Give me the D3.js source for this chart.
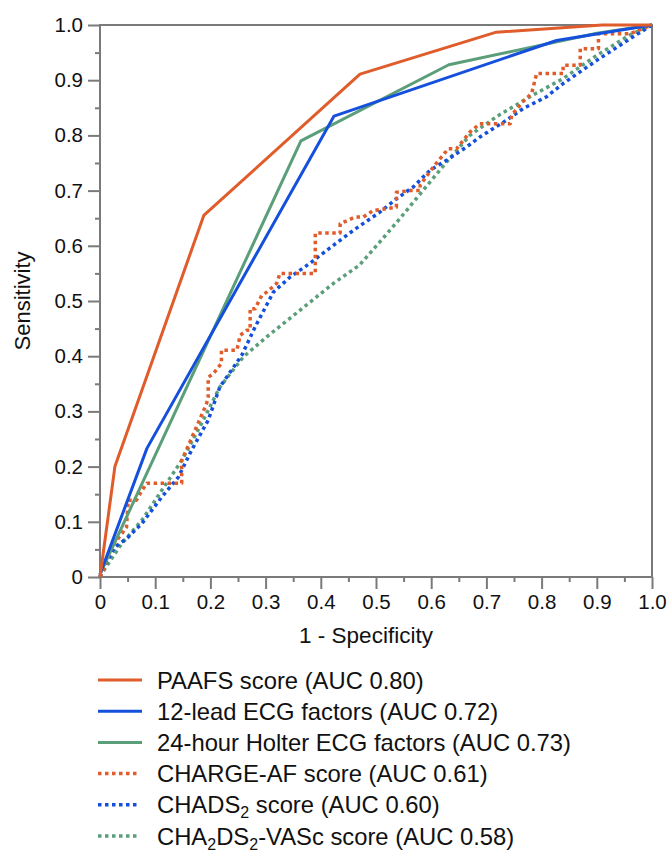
<!DOCTYPE html>
<html><head><meta charset="utf-8">
<script src="https://cdn.jsdelivr.net/npm/d3@7/dist/d3.min.js"></script>
<style>body{margin:0;background:#fff}svg{display:block}</style>
</head><body><svg id="c" width="667" height="855"></svg>
<script>
const majorTicks = [0,0.1,0.2,0.3,0.4,0.5,0.6,0.7,0.8,0.9,1.0];
const tickLabels = ["0","0.1","0.2","0.3","0.4","0.5","0.6","0.7","0.8","0.9","1.0"];
const minorTicks = [0.05,0.15,0.25,0.35,0.45,0.55,0.65,0.75,0.85,0.95];
const xTitle = "1 - Specificity";
const yTitle = "Sensitivity";

const paafs = [[0,0],[0.027,0.2],[0.188,0.655],[0.471,0.911],[0.718,0.987],[0.91,1.0],[1,1]];
const ecg12 = [[0,0.005],[0.085,0.233],[0.424,0.835],[0.827,0.972],[1,1]];
const holter = [[0,0.005],[0.364,0.79],[0.632,0.928],[0.9,0.985],[1,1]];
const charge = [[0,0],[0.003,0.006],[0.021,0.054],[0.048,0.09],[0.051,0.139],[0.066,0.139],[0.076,0.157],[0.085,0.17],[0.148,0.17],[0.148,0.211],[0.184,0.293],[0.193,0.314],[0.196,0.326],[0.196,0.362],[0.205,0.368],[0.22,0.387],[0.22,0.411],[0.248,0.411],[0.254,0.438],[0.266,0.447],[0.272,0.447],[0.272,0.486],[0.281,0.486],[0.293,0.51],[0.302,0.516],[0.32,0.532],[0.326,0.55],[0.39,0.55],[0.39,0.623],[0.435,0.623],[0.435,0.64],[0.462,0.652],[0.477,0.652],[0.495,0.664],[0.537,0.67],[0.537,0.697],[0.562,0.7],[0.58,0.7],[0.58,0.71],[0.604,0.743],[0.631,0.776],[0.646,0.776],[0.67,0.806],[0.688,0.821],[0.743,0.821],[0.746,0.837],[0.767,0.862],[0.782,0.876],[0.791,0.912],[0.839,0.912],[0.839,0.927],[0.87,0.927],[0.87,0.957],[0.903,0.957],[0.903,0.984],[0.96,0.984],[1,1]];
const chads = [[0,0],[0.003,0.012],[0.027,0.054],[0.051,0.072],[0.076,0.097],[0.112,0.145],[0.142,0.181],[0.166,0.23],[0.196,0.284],[0.217,0.344],[0.257,0.402],[0.281,0.453],[0.314,0.516],[0.344,0.543],[0.38,0.568],[0.411,0.592],[0.459,0.628],[0.507,0.661],[0.537,0.685],[0.568,0.707],[0.598,0.737],[0.628,0.755],[0.664,0.779],[0.688,0.797],[0.731,0.824],[0.767,0.849],[0.809,0.87],[0.839,0.894],[0.9,0.936],[0.96,0.975],[1,1]];
const vasc = [[0,0],[0.003,0.006],[0.039,0.06],[0.076,0.103],[0.112,0.157],[0.148,0.211],[0.184,0.278],[0.217,0.344],[0.26,0.399],[0.302,0.435],[0.362,0.483],[0.423,0.532],[0.47,0.565],[0.507,0.607],[0.543,0.649],[0.58,0.694],[0.628,0.752],[0.67,0.8],[0.72,0.835],[0.779,0.87],[0.839,0.903],[0.9,0.945],[0.96,0.982],[1,1]];

const seriesData = [paafs, ecg12, holter, charge, chads, vasc];
const seriesColors = ["#e05c2a","#1450dc","#5a9e7a","#e05c2a","#1450dc","#5a9e7a"];
const seriesDotted = [false,false,false,true,true,true];
const seriesLabels = [
  [["PAAFS score (AUC 0.80)",false]],
  [["12-lead ECG factors (AUC 0.72)",false]],
  [["24-hour Holter ECG factors (AUC 0.73)",false]],
  [["CHARGE-AF score (AUC 0.61)",false]],
  [["CHADS",false],["2",true],[" score (AUC 0.60)",false]],
  [["CHA",false],["2",true],["DS",false],["2",true],["-VASc score (AUC 0.58)",false]]
];

const FONT = "'Liberation Sans', Arial, Helvetica, sans-serif";
const svg = d3.select("#c");
const x = d3.scaleLinear().domain([0,1]).range([100,652]);
const y = d3.scaleLinear().domain([0,1]).range([577,25]);
const axisColor = "#7a7a7a";

svg.append("g").attr("transform","translate(100,0)")
  .call(d3.axisLeft(y).tickValues(minorTicks).tickSize(5).tickFormat("").tickSizeOuter(0));
svg.append("g").attr("transform","translate(0,577)")
  .call(d3.axisBottom(x).tickValues(minorTicks).tickSize(5).tickFormat("").tickSizeOuter(0));
svg.append("g").attr("transform","translate(100,0)")
  .call(d3.axisLeft(y).tickValues(majorTicks).tickSize(12).tickPadding(5)
    .tickFormat((d,i)=>tickLabels[i]).tickSizeOuter(0));
svg.append("g").attr("transform","translate(0,577)")
  .call(d3.axisBottom(x).tickValues(majorTicks).tickSize(12).tickPadding(5)
    .tickFormat((d,i)=>tickLabels[i]).tickSizeOuter(0));
svg.selectAll(".tick line").attr("stroke",axisColor).attr("stroke-width",2);
svg.selectAll(".domain").remove();
svg.selectAll(".tick text").attr("font-family",FONT).attr("font-size",20.5).attr("fill","#111");

svg.append("rect").attr("x",x(0)).attr("y",y(1)).attr("width",x(1)-x(0)).attr("height",y(0)-y(1))
  .attr("fill","none").attr("stroke",axisColor).attr("stroke-width",2);

svg.append("text").attr("x",366).attr("y",643).attr("text-anchor","middle")
  .attr("font-family",FONT).attr("font-size",22.5).attr("fill","#111").text(xTitle);
svg.append("text").attr("transform",`translate(30,${(y(0)+y(1))/2}) rotate(-90)`).attr("text-anchor","middle")
  .attr("font-family",FONT).attr("font-size",22).attr("fill","#111").text(yTitle);

const line = d3.line().x(d=>x(d[0])).y(d=>y(d[1]));
[5,4,3,2,1,0].forEach(i=>{
  svg.append("path").datum(seriesData[i]).attr("d",line).attr("fill","none")
    .attr("stroke",seriesColors[i]).attr("stroke-width",seriesDotted[i]?3.5:3)
    .attr("stroke-dasharray",seriesDotted[i]?"3.5,3.5":null)
    .attr("stroke-linejoin","round");
});

const legY0 = 680, legStep = 31.2;
seriesLabels.forEach((parts,i)=>{
  const yy = legY0 + i*legStep;
  svg.append("line").attr("x1",98).attr("x2",seriesDotted[i]?139:142).attr("y1",yy).attr("y2",yy)
    .attr("stroke",seriesColors[i]).attr("stroke-width",seriesDotted[i]?3.5:3)
    .attr("stroke-dasharray",seriesDotted[i]?"3.5,3.5":null);
  const t = svg.append("text").attr("x",157).attr("y",yy+8.5).attr("font-family",FONT)
    .attr("font-size",23.8).attr("fill","#111");
  parts.forEach(([s,sub],j)=>{
    const ts = t.append("tspan").text(s);
    if(sub) ts.attr("font-size",16).attr("dy",5);
    else if(j>0 && parts[j-1][1]) ts.attr("dy",-5);
  });
});
</script>
</body></html>
